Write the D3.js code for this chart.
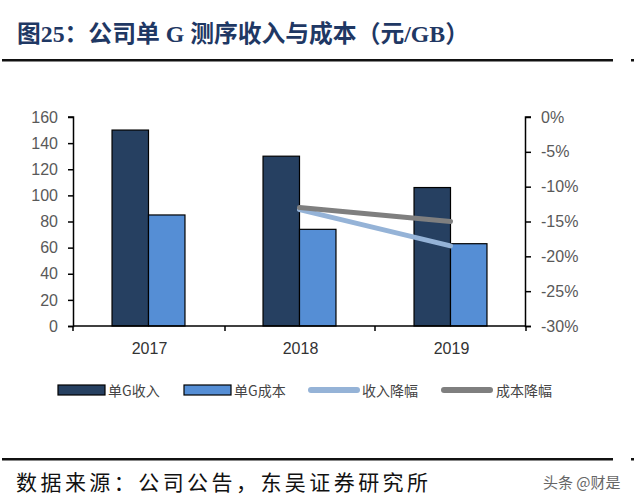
<!DOCTYPE html>
<html><head><meta charset="utf-8">
<script src="https://cdn.jsdelivr.net/npm/d3@7"></script>
<style>body{margin:0;background:#fff}svg{display:block}</style>
</head><body>
<svg id="c" width="640" height="502"></svg>
<script>
const categories = ["2017", "2018", "2019"];
const revenue = [150, 130, 106];
const cost = [85, 74, 63];
const revDecline = [null, -0.133, -0.185];
const costDecline = [null, -0.13, -0.15];
const leftTicks = [0, 20, 40, 60, 80, 100, 120, 140, 160];
const rightTicks = [0, -0.05, -0.10, -0.15, -0.20, -0.25, -0.30];
const seriesNames = ["单G收入", "单G成本", "收入降幅", "成本降幅"];

const colors = {rev: "#264061", cost: "#558ED5", revL: "#95B3D7", costL: "#7F7F7F"};
const svg = d3.select("#c");

// Title
svg.append("text").attr("x", 17).attr("y", 42)
  .attr("font-family", "'Liberation Serif','Noto Sans CJK SC',serif")
  .attr("font-weight", "bold").attr("font-size", 24).attr("fill", "#1F3864")
  .attr("textLength", 452).attr("lengthAdjust", "spacingAndGlyphs")
  .text("图25：公司单 G 测序收入与成本（元/GB）");
svg.append("rect").attr("x", 2).attr("y", 59).attr("width", 611).attr("height", 2.5).attr("fill", "#111");
svg.append("rect").attr("x", 631).attr("y", 59).attr("width", 3).attr("height", 2.5).attr("fill", "#111");

// Scales
const x = d3.scaleBand().domain(categories).range([73, 526]).padding(0);
const xs = d3.scaleBand().domain([0, 1]).range([0, x.bandwidth()]).paddingInner(0).paddingOuter(1.07);
const yL = d3.scaleLinear().domain([0, 160]).range([326, 117]);
const yR = d3.scaleLinear().domain([-0.3, 0]).range([326, 117]);

// Bars
const g = svg.append("g");
[revenue, cost].forEach((vals, si) => {
  g.selectAll(null).data(vals).enter().append("rect")
    .attr("x", (d, i) => x(categories[i]) + xs(si))
    .attr("y", d => yL(d))
    .attr("width", xs.bandwidth())
    .attr("height", d => yL(0) - yL(d))
    .attr("fill", si === 0 ? colors.rev : colors.cost)
    .attr("stroke", "#000").attr("stroke-width", 1.2);
});

// Lines
const line = d3.line()
  .defined(d => d.v !== null)
  .x(d => x(d.c) + x.bandwidth() / 2)
  .y(d => yR(d.v));
[[revDecline, colors.revL], [costDecline, colors.costL]].forEach(([vals, col]) => {
  svg.append("path")
    .datum(vals.map((v, i) => ({c: categories[i], v})))
    .attr("d", line).attr("fill", "none").attr("stroke", col)
    .attr("stroke-width", 5).attr("stroke-linecap", "round");
});

// Axes
const pct = d => d3.format(".0%")(d).replace("\u2212", "-");
const axL = svg.append("g").attr("transform", "translate(73,0)")
  .call(d3.axisLeft(yL).tickValues(leftTicks).tickSize(5).tickPadding(10));
const axR = svg.append("g").attr("transform", "translate(526,0)")
  .call(d3.axisRight(yR).tickValues(rightTicks).tickSize(5).tickPadding(10).tickFormat(pct));
const xTickPos = [73, 225, 375, 526];
const axB = svg.append("g").attr("transform", "translate(0,326)");
axB.append("line").attr("x1", 73).attr("x2", 526).attr("stroke", "#000").attr("stroke-width", 1.5);
axB.selectAll(null).data(xTickPos).enter().append("line")
  .attr("x1", d => d).attr("x2", d => d).attr("y1", 0).attr("y2", 5)
  .attr("stroke", "#000").attr("stroke-width", 1.5);
axB.selectAll(null).data(categories).enter().append("text")
  .attr("x", d => x(d) + x.bandwidth() / 2 + 1).attr("y", 28)
  .attr("text-anchor", "middle").attr("font-family", "'Liberation Sans',Arial,sans-serif")
  .attr("font-size", 16).attr("fill", "#333").text(d => d);

[axL, axR].forEach(a => {
  a.select(".domain").attr("stroke", "#000").attr("stroke-width", 1.5);
  a.selectAll(".tick line").attr("stroke", "#000").attr("stroke-width", 1.5);
  a.selectAll(".tick text").attr("font-family", "'Liberation Sans',Arial,sans-serif")
    .attr("font-size", 16).attr("fill", "#595959");
});
axL.select(".domain").attr("d", "M-5,326.5H0.5V117H-5");
axR.select(".domain").attr("d", "M5,326.5H-0.5V117H5");

// Legend
const leg = svg.append("g").attr("font-family", "'Noto Sans CJK SC',sans-serif").attr("font-size", 14).attr("fill", "#444");
const legItems = [
  {type: "rect", col: colors.rev, x0: 58, tx: 108},
  {type: "rect", col: colors.cost, x0: 184, tx: 234},
  {type: "line", col: colors.revL, x0: 309, tx: 362},
  {type: "line", col: colors.costL, x0: 442, tx: 496}
];
legItems.forEach((it, i) => {
  if (it.type === "rect") {
    leg.append("rect").attr("x", it.x0).attr("y", 385).attr("width", 47).attr("height", 10)
      .attr("fill", it.col).attr("stroke", "#000").attr("stroke-width", 1.2);
  } else {
    leg.append("line").attr("x1", it.x0 + 2).attr("x2", it.x0 + 48).attr("y1", 390).attr("y2", 390)
      .attr("stroke", it.col).attr("stroke-width", 6).attr("stroke-linecap", "round");
  }
  leg.append("text").attr("x", it.tx).attr("y", 395.5).text(seriesNames[i]);
});

// Footer
svg.append("rect").attr("x", 2).attr("y", 458).attr("width", 611).attr("height", 2.5).attr("fill", "#111");
svg.append("rect").attr("x", 631).attr("y", 458).attr("width", 3).attr("height", 2.5).attr("fill", "#111");
svg.append("text").attr("x", 16).attr("y", 490)
  .attr("font-family", "'Noto Sans CJK SC',serif").attr("font-size", 21).attr("fill", "#111")
  .attr("textLength", 412).attr("lengthAdjust", "spacing")
  .text("数据来源：公司公告，东吴证券研究所");
svg.append("text").attr("x", 543).attr("y", 488)
  .attr("font-family", "'Noto Sans CJK SC',sans-serif").attr("font-size", 15).attr("fill", "#666")
  .text("头条 @财是");
</script>
</body></html>
